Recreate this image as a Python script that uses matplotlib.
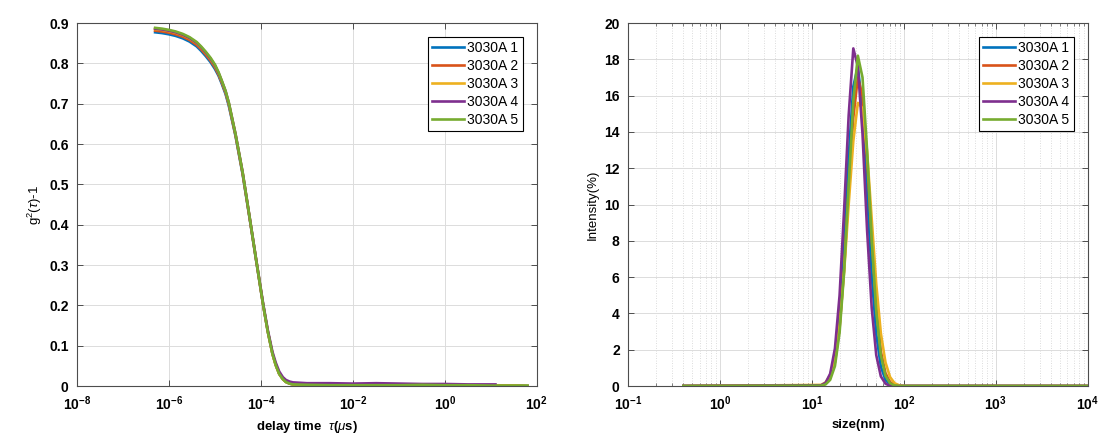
import matplotlib
matplotlib.use('Agg')
import matplotlib.pyplot as plt
import numpy as np
from matplotlib.ticker import LogLocator, NullFormatter, NullLocator

plt.rcParams['font.family'] = ['Liberation Sans', 'DejaVu Sans']
plt.rcParams['mathtext.fontset'] = 'custom'
plt.rcParams['mathtext.rm'] = 'Liberation Sans'
plt.rcParams['mathtext.it'] = 'Liberation Sans:italic'
plt.rcParams['mathtext.bf'] = 'Liberation Sans:bold'

labels = ['3030A 1', '3030A 2', '3030A 3', '3030A 4', '3030A 5']
colors = ['#0072BD', '#D95319', '#EDB120', '#7E2F8E', '#77AC30']

# correlation function, delay time in us
tau = [5.0e-7, 7.1e-7, 1.0e-6, 1.4e-6, 2.0e-6, 2.8e-6, 4.0e-6, 5.0e-6, 6.3e-6, 8.0e-6,
       1.0e-5, 1.2e-5, 1.4e-5, 1.7e-5, 2.0e-5, 2.8e-5, 4.0e-5, 5.6e-5, 7.9e-5, 1.12e-4,
       1.41e-4, 1.78e-4, 2.1e-4, 2.5e-4, 3.0e-4, 3.5e-4, 4.2e-4, 5.0e-4, 1.0e-3, 3.2e-3,
       1.0e-2, 3.2e-2, 0.1, 0.32, 1.0, 3.2, 10.0, 12.6, 32.0, 63.0]
g2_1 = [0.877, 0.875, 0.872, 0.868, 0.862, 0.854, 0.842, 0.831, 0.818, 0.803,
        0.786, 0.769, 0.750, 0.724, 0.695, 0.620, 0.525, 0.420, 0.310, 0.200,
        0.135, 0.080, 0.052, 0.030, 0.017, 0.010, 0.006, 0.004, 0.003, 0.003,
        0.002, 0.002, 0.002, 0.001, 0.001, 0.001, 0.001, 0.001, 0.001, 0.000]
g2_2 = [0.881, 0.879, 0.876, 0.872, 0.866, 0.858, 0.846, 0.835, 0.822, 0.807,
        0.790, 0.772, 0.753, 0.727, 0.698, 0.622, 0.527, 0.421, 0.311, 0.200,
        0.135, 0.080, 0.052, 0.030, 0.017, 0.010, 0.006, 0.004, 0.003, 0.002,
        0.002, 0.002, 0.001, 0.001, 0.001, 0.001, 0.001, 0.001, 0.001, 0.000]
g2_3 = [0.885, 0.883, 0.880, 0.876, 0.870, 0.862, 0.850, 0.839, 0.826, 0.811,
        0.794, 0.775, 0.756, 0.730, 0.701, 0.624, 0.529, 0.422, 0.312, 0.201,
        0.136, 0.080, 0.052, 0.030, 0.017, 0.010, 0.006, 0.004, 0.003, 0.003,
        0.002, 0.002, 0.002, 0.001, 0.001, 0.001, 0.001, 0.001, 0.001, 0.000]
g2_4 = [0.886, 0.884, 0.881, 0.877, 0.871, 0.863, 0.851, 0.840, 0.827, 0.812,
        0.795, 0.776, 0.757, 0.731, 0.702, 0.625, 0.530, 0.423, 0.313, 0.204,
        0.139, 0.085, 0.058, 0.036, 0.022, 0.015, 0.011, 0.009, 0.007, 0.007,
        0.006, 0.007, 0.006, 0.005, 0.005, 0.004, 0.004, 0.004, np.nan, np.nan]
g2_5 = [0.888, 0.886, 0.883, 0.879, 0.873, 0.865, 0.853, 0.842, 0.829, 0.814,
        0.797, 0.778, 0.758, 0.732, 0.703, 0.625, 0.530, 0.423, 0.312, 0.201,
        0.135, 0.080, 0.052, 0.030, 0.017, 0.010, 0.006, 0.004, 0.003, 0.002,
        0.002, 0.002, 0.002, 0.003, 0.002, 0.002, 0.001, 0.001, 0.001, 0.001]

# size distribution, nm
size = [0.4, 12.6, 14.1, 15.8, 17.8, 20.0, 22.4, 25.1, 28.2, 31.6, 35.5, 39.8, 44.7,
        50.1, 56.2, 63.1, 70.8, 79.4, 89.1, 100.0, 10000.0]
int_1 = [0, 0.03, 0.15, 0.54, 1.63, 3.96, 7.8, 12.6, 16.5, 17.6, 15.2, 10.7, 6.1,
         2.85, 1.07, 0.33, 0.08, 0.02, 0, 0, 0]
int_2 = [0, 0.03, 0.13, 0.45, 1.3, 3.2, 6.5, 10.8, 14.8, 17.0, 16.0, 12.5, 8.1,
         4.3, 1.9, 0.71, 0.22, 0.05, 0, 0, 0]
int_3 = [0, 0.06, 0.2, 0.6, 1.5, 3.35, 6.3, 10.0, 13.5, 15.6, 15.3, 12.9, 9.2,
         5.6, 2.9, 1.3, 0.49, 0.15, 0.04, 0, 0]
int_4 = [0, 0.04, 0.18, 0.68, 2.07, 5.0, 9.7, 14.9, 18.6, 17.6, 13.9, 8.6, 4.3,
         1.7, 0.53, 0.13, 0.01, 0, 0, 0, 0]
int_5 = [0, 0.02, 0.09, 0.34, 1.1, 2.95, 6.3, 11.0, 15.7, 18.2, 17.0, 13.0, 8.1,
         4.1, 1.7, 0.56, 0.15, 0.03, 0, 0, 0]

left_xticks = [1e-8, 1e-6, 1e-4, 1e-2, 1e0, 1e2]
left_xlabels = [r'$\mathbf{10^{-8}}$', r'$\mathbf{10^{-6}}$', r'$\mathbf{10^{-4}}$',
                r'$\mathbf{10^{-2}}$', r'$\mathbf{10^{0}}$', r'$\mathbf{10^{2}}$']
right_xticks = [1e-1, 1e0, 1e1, 1e2, 1e3, 1e4]
right_xlabels = [r'$\mathbf{10^{-1}}$', r'$\mathbf{10^{0}}$', r'$\mathbf{10^{1}}$',
                 r'$\mathbf{10^{2}}$', r'$\mathbf{10^{3}}$', r'$\mathbf{10^{4}}$']

fig = plt.figure(figsize=(11, 4.46), dpi=100)
ax1 = fig.add_axes([0.07, 0.1345, 0.418, 0.8139])
ax2 = fig.add_axes([0.5709, 0.1345, 0.418, 0.8139])

for g, c, l in zip([g2_1, g2_2, g2_3, g2_4, g2_5], colors, labels):
    ax1.plot(tau, g, color=c, lw=1.9, label=l)
for s, c, l in zip([int_1, int_2, int_3, int_4, int_5], colors, labels):
    ax2.plot(size, s, color=c, lw=1.9, label=l)

def style(ax):
    ax.set_xscale('log')
    for sp in ax.spines.values():
        sp.set_color('#4d4d4d')
        sp.set_linewidth(0.8)
    ax.tick_params(which='both', direction='in', top=True, right=True, color='#4d4d4d')
    ax.tick_params(which='major', length=4, width=0.7, labelsize=10, pad=6)
    ax.tick_params(which='minor', length=2.5, width=0.5)
    ax.grid(True, which='major', color='#dcdcdc', lw=0.7)
    ax.set_axisbelow(True)
    leg = ax.legend(loc='upper right', fontsize=10, frameon=True, fancybox=False,
                    edgecolor='black', framealpha=1, handlelength=2.3,
                    handletextpad=0.25, labelspacing=0.28, borderaxespad=1.0,
                    borderpad=0.3)
    leg.get_frame().set_linewidth(0.8)

ax1.set_xlim(1e-8, 1e2)
ax1.set_ylim(0, 0.9)
style(ax1)
ax1.set_yticks(np.arange(0, 0.91, 0.1))
ax1.set_yticklabels(['0', '0.1', '0.2', '0.3', '0.4', '0.5', '0.6', '0.7', '0.8', '0.9'],
                    fontweight='bold')
ax1.set_xticks(left_xticks)
ax1.set_xticklabels(left_xlabels)
ax1.xaxis.set_minor_locator(NullLocator())
ax1.set_xlabel(r'delay time  $\tau$($\mu$s)', fontsize=9.5, fontweight='bold', labelpad=4)
ax1.set_ylabel(r'g$^2$($\tau$)-1', fontsize=9.5, labelpad=4)

ax2.set_xlim(1e-1, 1e4)
ax2.set_ylim(0, 20)
style(ax2)
ax2.set_yticks(np.arange(0, 21, 2))
ax2.set_yticklabels([str(v) for v in range(0, 21, 2)], fontweight='bold')
ax2.set_xticks(right_xticks)
ax2.set_xticklabels(right_xlabels)
ax2.xaxis.set_minor_locator(LogLocator(base=10, subs=np.arange(2, 10)))
ax2.xaxis.set_minor_formatter(NullFormatter())
ax2.grid(True, which='minor', axis='x', color='#d0d0d0', lw=0.6, ls=(0, (1, 2)))
ax2.set_xlabel('size(nm)', fontsize=9.5, fontweight='bold', labelpad=4)
ax2.set_ylabel('Intensity(%)', fontsize=9.5, labelpad=4)

fig.savefig('out.png', dpi=100)
